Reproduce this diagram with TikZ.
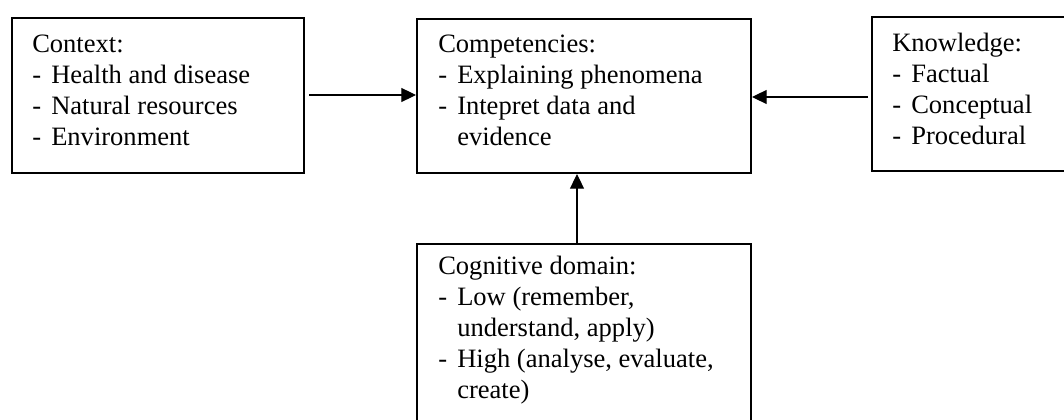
\documentclass[tikz,border=0pt]{standalone}
\usepackage{fontspec}
\setmainfont{Liberation Serif}
\usetikzlibrary{arrows.meta}
\newcommand{\dsh}{\makebox[14.25pt][l]{-}}
\begin{document}
\begin{tikzpicture}[x=0.75pt,y=-0.75pt,
  boxline/.style={draw=black,line width=1.5pt},
  boxtext/.style={anchor=base west,inner sep=0pt,font=\fontsize{19.9}{23.25}\selectfont},
  conn/.style={draw=black,line width=0.8pt,-{Triangle[length=11pt,width=10.5pt]}}]
\useasboundingbox (0,0) rectangle (1064,420);
\clip (0,0) rectangle (1064,420);
% boxes
\node[boxline,rectangle,inner sep=0pt,minimum width=292*0.75pt,minimum height=155*0.75pt,anchor=north west] (ctx) at (11,17) {};
\node[boxline,rectangle,inner sep=0pt,minimum width=334*0.75pt,minimum height=154*0.75pt,anchor=north west] (comp) at (416,18) {};
\node[boxline,rectangle,inner sep=0pt,minimum width=220*0.75pt,minimum height=154*0.75pt,anchor=north west] (know) at (871,16) {};
\node[boxline,rectangle,inner sep=0pt,minimum width=334*0.75pt,minimum height=200*0.75pt,anchor=north west] (cog) at (416,243) {};
% texts
\node[boxtext] (ctxt) at (32,53) {\begin{tabular}[t]{@{}l@{}l@{}}
\multicolumn{2}{@{}l@{}}{Context:}\\
\dsh & Health and disease\\
\dsh & Natural resources\\
\dsh & Environment
\end{tabular}};
\node[boxtext] (compt) at (438,53) {\begin{tabular}[t]{@{}l@{}l@{}}
\multicolumn{2}{@{}l@{}}{Competencies:}\\
\dsh & Explaining phenomena\\
\dsh & Intepret data and\\
 & evidence
\end{tabular}};
\node[boxtext] (knowt) at (892,52) {\begin{tabular}[t]{@{}l@{}l@{}}
\multicolumn{2}{@{}l@{}}{Knowledge:}\\
\dsh & Factual\\
\dsh & Conceptual\\
\dsh & Procedural
\end{tabular}};
\node[boxtext] (cogt) at (438,275) {\begin{tabular}[t]{@{}l@{}l@{}}
\multicolumn{2}{@{}l@{}}{Cognitive domain:}\\
\dsh & Low (remember,\\
 & understand, apply)\\
\dsh & High (analyse, evaluate,\\
 & create)
\end{tabular}};
% connectors
\coordinate (a1) at (ctx.east |- 0,95);
\coordinate (a2) at (comp.west |- 0,95);
\draw[conn,shorten <=4*0.75pt] (a1) -- (a2);
\coordinate (b1) at (know.west |- 0,97);
\coordinate (b2) at (comp.east |- 0,97);
\draw[conn,shorten <=3*0.75pt] (b1) -- (b2);
\coordinate (c1) at (cog.north -| 577,0);
\coordinate (c2) at (comp.south -| 577,0);
\draw[conn] (c1) -- (c2);
\end{tikzpicture}
\end{document}
